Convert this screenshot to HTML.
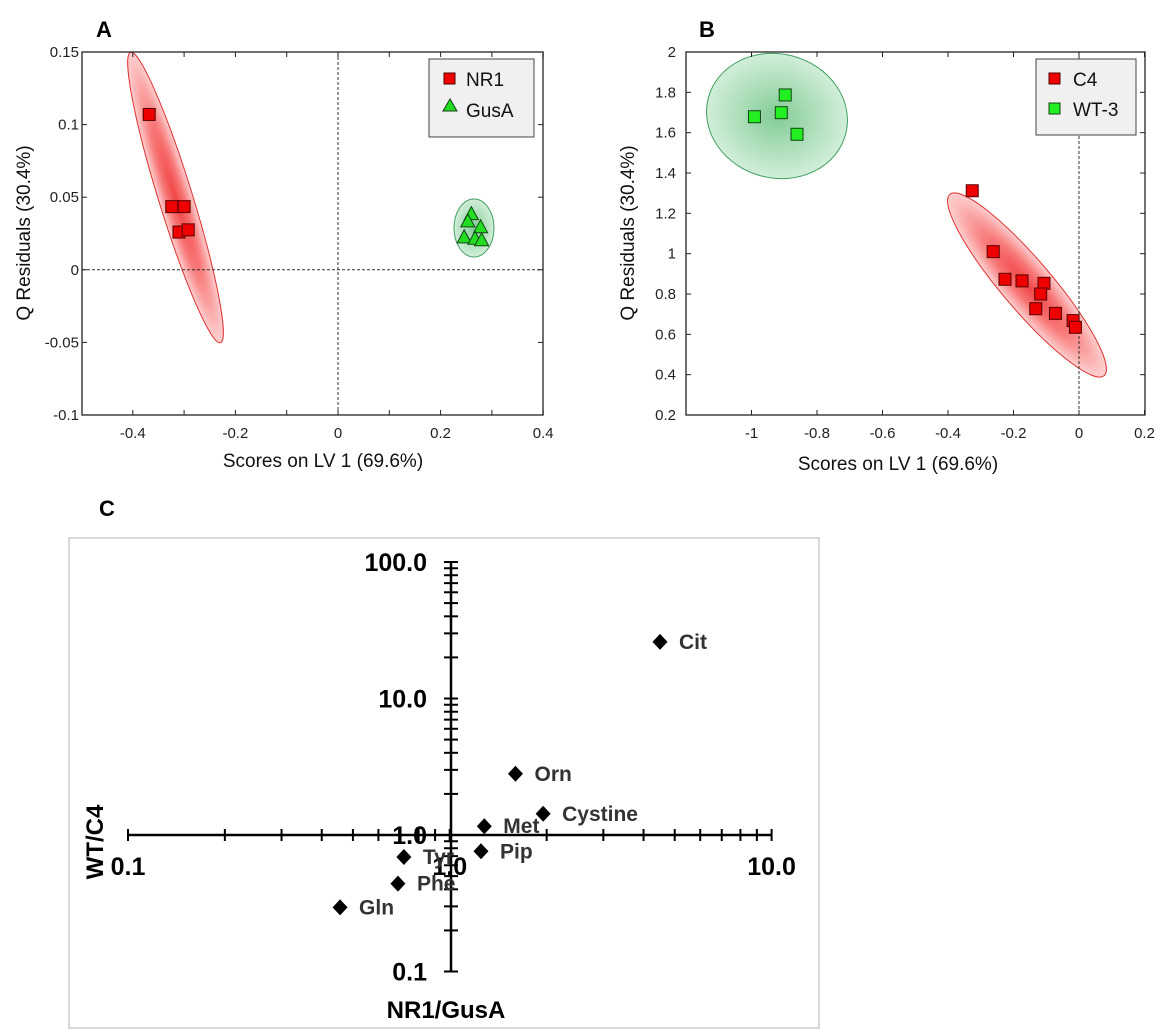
<!DOCTYPE html>
<html><head><meta charset="utf-8">
<style>
html,body{margin:0;padding:0;background:#fff;}
svg{display:block;font-family:"Liberation Sans",Arial,sans-serif;}
</style></head>
<body>
<svg id="fig" width="1170" height="1033" viewBox="0 0 1170 1033" xmlns="http://www.w3.org/2000/svg">
<defs>
<radialGradient id="gRed" cx="50%" cy="50%" r="50%">
<stop offset="0" stop-color="#f04545"/>
<stop offset="0.5" stop-color="#f87878"/>
<stop offset="1" stop-color="#fdd0d0"/>
</radialGradient>
<radialGradient id="gGreen" cx="50%" cy="50%" r="50%">
<stop offset="0" stop-color="#82cc96"/>
<stop offset="1" stop-color="#d2eed9"/>
</radialGradient>
</defs>
<g id="panelA"></g>
<g id="panelB"></g>
<g id="panelC"></g>
</svg>
<script>
// ---- Panel A data ----
const aNR1X = [-0.368, -0.324, -0.300, -0.310, -0.292];
const aNR1Y = [0.107, 0.0435, 0.0435, 0.026, 0.0275];
const aGusX = [0.260, 0.253, 0.278, 0.246, 0.267, 0.280];
const aGusY = [0.038, 0.033, 0.029, 0.022, 0.021, 0.020];
const aXTicks = [-0.4, -0.2, 0, 0.2, 0.4];
const aYTicks = [0.15, 0.1, 0.05, 0, -0.05, -0.1];
// ---- Panel B data ----
const bC4X = [-0.326, -0.262, -0.226, -0.174, -0.107, -0.117, -0.132, -0.072, -0.018, -0.011];
const bC4Y = [1.312, 1.010, 0.873, 0.865, 0.853, 0.800, 0.727, 0.704, 0.668, 0.635];
const bWTX = [-0.991, -0.909, -0.897, -0.861];
const bWTY = [1.679, 1.699, 1.787, 1.592];
const bXTicks = [-1, -0.8, -0.6, -0.4, -0.2, 0, 0.2];
const bYTicks = [2, 1.8, 1.6, 1.4, 1.2, 1, 0.8, 0.6, 0.4, 0.2];
// ---- Panel C data ----
const cNames = ["Cit", "Orn", "Cystine", "Met", "Pip", "Tyr", "Phe", "Gln"];
const cX = [4.5, 1.6, 1.95, 1.28, 1.25, 0.72, 0.69, 0.456];
const cY = [26, 2.81, 1.43, 1.16, 0.76, 0.69, 0.44, 0.295];
const cXTickLabels = ["0.1", "1.0", "10.0"];
const cYTickLabels = ["0.1", "1.0", "10.0", "100.0"];

const NS = "http://www.w3.org/2000/svg";
function mk(parent, tag, attrs, text){
  const e = document.createElementNS(NS, tag);
  for (const k in attrs) e.setAttribute(k, attrs[k]);
  if (text !== undefined) e.textContent = text;
  parent.appendChild(e);
  return e;
}

// ================= Panel A =================
(function(){
  const g = document.getElementById('panelA');
  const L=82, R=543, T=52, B=415;
  const xs = v => 338 + v*513;
  const ys = v => T + (0.15 - v)*(B-T)/0.25;
  let t = mk(g,'text',{x:96,y:37,'font-size':22,'font-weight':'bold'},'A');
   
  let e = mk(g,'ellipse',{cx:175.5,cy:197.5,rx:17,ry:152,fill:'url(#gRed)',stroke:'#e03030','stroke-width':1,transform:'rotate(-17.2 175.5 197.5)'});
   
  e = mk(g,'ellipse',{cx:474,cy:228,rx:20,ry:29,fill:'url(#gGreen)',stroke:'#40a060','stroke-width':1});
   
  let d = mk(g,'line',{x1:xs(0),y1:T,x2:xs(0),y2:B,stroke:'#333','stroke-dasharray':'3,2','stroke-width':1});
   
  d = mk(g,'line',{x1:L,y1:ys(0),x2:R,y2:ys(0),stroke:'#333','stroke-dasharray':'3,2','stroke-width':1});
   
  let f = mk(g,'rect',{x:L,y:T,width:R-L,height:B-T,fill:'none',stroke:'#222','stroke-width':1.3});
   
  for (let v=-0.4; v<=0.41; v+=0.1){
    const x=xs(v);
    mk(g,'line',{x1:x,y1:B,x2:x,y2:B-5,stroke:'#222'});
    mk(g,'line',{x1:x,y1:T,x2:x,y2:T+5,stroke:'#222'});
  }
  aXTicks.forEach(v=>{
    const tl = mk(g,'text',{x:xs(v),y:B+23,'font-size':15,'text-anchor':'middle',fill:'#222'}, String(v));
     
  });
  aYTicks.forEach(v=>{
    const y=ys(v);
    mk(g,'line',{x1:L,y1:y,x2:L+5,y2:y,stroke:'#222'});
    mk(g,'line',{x1:R,y1:y,x2:R-5,y2:y,stroke:'#222'});
    const tl = mk(g,'text',{x:L-3,y:y+5,'font-size':15,'text-anchor':'end',fill:'#222'}, String(v));
     
  });
  t = mk(g,'text',{x:323,y:467,'font-size':19,'text-anchor':'middle',fill:'#111'},'Scores on LV 1 (69.6%)');
   
  t = mk(g,'text',{x:0,y:0,'font-size':19,'text-anchor':'middle',fill:'#111',transform:'translate(30 233) rotate(-90)'},'Q Residuals (30.4%)');
   
  aNR1X.forEach((v,i)=>{
    const r = mk(g,'rect',{x:xs(v)-6,y:ys(aNR1Y[i])-6,width:12,height:12,fill:'#ee0000',stroke:'#550000','stroke-width':1});
     
  });
  aGusX.forEach((v,i)=>{
    const x=xs(v), y=ys(aGusY[i]);
    const p = mk(g,'polygon',{points:`${x},${y-8} ${x-7},${y+5} ${x+7},${y+5}`,fill:'#22dd22',stroke:'#114411','stroke-width':1});
     
  });
  const lg = mk(g,'g',{});
   
  mk(lg,'rect',{x:429,y:59,width:105,height:78,fill:'#f0f0f0',stroke:'#444','stroke-width':1});
  mk(lg,'rect',{x:444,y:73,width:11,height:11,fill:'#ee0000',stroke:'#550000'});
  let le = mk(lg,'text',{x:466,y:86,'font-size':19,fill:'#111'},'NR1');
   
  mk(lg,'polygon',{points:'450,99 443,111 457,111',fill:'#22dd22',stroke:'#114411'});
  le = mk(lg,'text',{x:466,y:117,'font-size':19,fill:'#111'},'GusA');
   
})();

// ================= Panel B =================
(function(){
  const g = document.getElementById('panelB');
  const L=686, R=1145, T=52, B=415;
  const xs = v => 1079 + v*327.5;
  const ys = v => T + (2 - v)*(B-T)/1.8;
  let t = mk(g,'text',{x:699,y:37,'font-size':22,'font-weight':'bold'},'B');
   
  let e = mk(g,'ellipse',{cx:777,cy:116,rx:71,ry:62,fill:'url(#gGreen)',stroke:'#40a060','stroke-width':1,transform:'rotate(15 777 116)'});
   
  e = mk(g,'ellipse',{cx:1027,cy:285,rx:25,ry:119,fill:'url(#gRed)',stroke:'#e03030','stroke-width':1,transform:'rotate(-40.4 1027 285)'});
   
  let d = mk(g,'line',{x1:xs(0),y1:T+4,x2:xs(0),y2:B,stroke:'#333','stroke-dasharray':'3,2','stroke-width':1});
   
  let f = mk(g,'rect',{x:L,y:T,width:R-L,height:B-T,fill:'none',stroke:'#222','stroke-width':1.3});
   
  bXTicks.forEach(v=>{
    const x=xs(v);
    mk(g,'line',{x1:x,y1:B,x2:x,y2:B-5,stroke:'#222'});
    mk(g,'line',{x1:x,y1:T,x2:x,y2:T+5,stroke:'#222'});
    const tl = mk(g,'text',{x:x,y:B+23,'font-size':15,'text-anchor':'middle',fill:'#222'}, String(v));
     
  });
  bYTicks.forEach(v=>{
    const y=ys(v);
    mk(g,'line',{x1:L,y1:y,x2:L+5,y2:y,stroke:'#222'});
    mk(g,'line',{x1:R,y1:y,x2:R-5,y2:y,stroke:'#222'});
    const tl = mk(g,'text',{x:L-10,y:y+5,'font-size':15,'text-anchor':'end',fill:'#222'}, String(v));
     
  });
  t = mk(g,'text',{x:898,y:470,'font-size':19,'text-anchor':'middle',fill:'#111'},'Scores on LV 1 (69.6%)');
   
  t = mk(g,'text',{x:0,y:0,'font-size':19,'text-anchor':'middle',fill:'#111',transform:'translate(634 233) rotate(-90)'},'Q Residuals (30.4%)');
   
  bC4X.forEach((v,i)=>{
    const r = mk(g,'rect',{x:xs(v)-6,y:ys(bC4Y[i])-6,width:12,height:12,fill:'#ee0000',stroke:'#550000','stroke-width':1});
     
  });
  bWTX.forEach((v,i)=>{
    const r = mk(g,'rect',{x:xs(v)-6,y:ys(bWTY[i])-6,width:12,height:12,fill:'#22ee22',stroke:'#114411','stroke-width':1});
     
  });
  const lg = mk(g,'g',{});
   
  mk(lg,'rect',{x:1036,y:59,width:100,height:76,fill:'#f0f0f0',stroke:'#444','stroke-width':1});
  mk(lg,'rect',{x:1049,y:73,width:11,height:11,fill:'#ee0000',stroke:'#550000'});
  let le = mk(lg,'text',{x:1073,y:86,'font-size':19,fill:'#111'},'C4');
   
  mk(lg,'rect',{x:1049,y:103,width:11,height:11,fill:'#22ee22',stroke:'#114411'});
  le = mk(lg,'text',{x:1073,y:116,'font-size':19,fill:'#111'},'WT-3');
   
})();

// ================= Panel C =================
(function(){
  const g = document.getElementById('panelC');
  const xs = v => 449.8 + Math.log10(v)*321.8;
  const ys = v => 835 - Math.log10(v)*136.5;
  let t = mk(g,'text',{x:99,y:516,'font-size':22,'font-weight':'bold'},'C');
   
  let f = mk(g,'rect',{x:69,y:538,width:750,height:490,fill:'#fff',stroke:'#ccc','stroke-width':1.5});
   
  const ax = 451;
  let a = mk(g,'line',{x1:xs(0.1),y1:835,x2:xs(10),y2:835,stroke:'#000','stroke-width':2.5});
   
  a = mk(g,'line',{x1:ax,y1:ys(100),x2:ax,y2:ys(0.1),stroke:'#000','stroke-width':2.5});
   
  for (let dec=0.1; dec<10; dec*=10){
    for (let k=1;k<=10;k++){
      const x = xs(dec*k);
      mk(g,'line',{x1:x,y1:829,x2:x,y2:841,stroke:'#000','stroke-width':2});
    }
  }
  for (let dec=0.1; dec<100; dec*=10){
    for (let k=1;k<=10;k++){
      const y = ys(dec*k);
      mk(g,'line',{x1:ax-7,y1:y,x2:ax+7,y2:y,stroke:'#000','stroke-width':2});
    }
  }
  cXTickLabels.forEach(s=>{
    const tl = mk(g,'text',{x:xs(parseFloat(s)),y:875,'font-size':25,'font-weight':'bold','text-anchor':'middle',fill:'#000'},s);
     
  });
  cYTickLabels.forEach(s=>{
    const tl = mk(g,'text',{x:427,y:ys(parseFloat(s))+9,'font-size':25,'font-weight':'bold','text-anchor':'end',fill:'#000'},s);
     
  });
  t = mk(g,'text',{x:446,y:1018,'font-size':24,'font-weight':'bold','text-anchor':'middle',fill:'#000'},'NR1/GusA');
   
  t = mk(g,'text',{x:0,y:0,'font-size':24,'font-weight':'bold','text-anchor':'middle',fill:'#000',transform:'translate(103 842) rotate(-90)'},'WT/C4');
   
  cX.forEach((v,i)=>{
    const x=xs(v), y=ys(cY[i]);
    const p = mk(g,'polygon',{points:`${x},${y-8} ${x+7.5},${y} ${x},${y+8} ${x-7.5},${y}`,fill:'#000'});
     
    const l = mk(g,'text',{x:x+19,y:y+7,'font-size':21,'font-weight':'bold',fill:'#333'},cNames[i]);
     
  });
})();
</script>
</body></html>
